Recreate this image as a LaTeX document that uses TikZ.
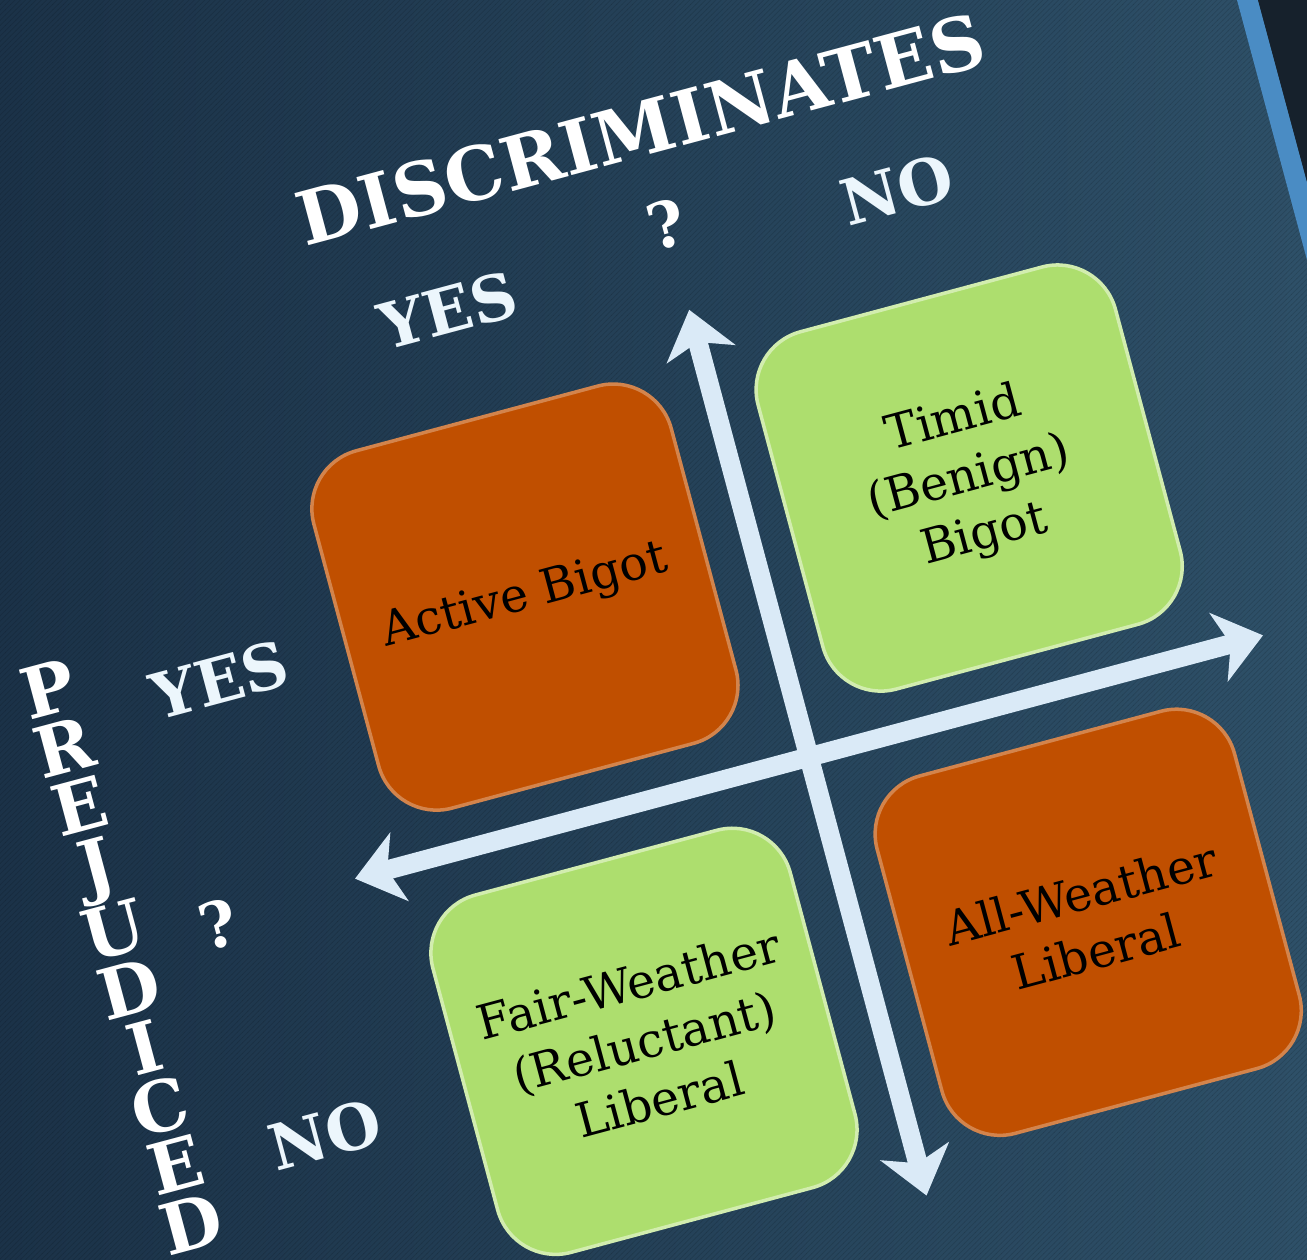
\documentclass[tikz,border=0pt]{standalone}
\usepackage{fontspec}
\setmainfont{DejaVu Serif}
\usetikzlibrary{arrows.meta,patterns}

\definecolor{navydark}{RGB}{27,50,72}
\definecolor{navylight}{RGB}{46,80,104}
\definecolor{rust}{RGB}{192,79,0}
\definecolor{lime}{RGB}{173,222,110}
\definecolor{axisblue}{RGB}{218,234,247}
\definecolor{edgeblue}{RGB}{74,140,196}
\definecolor{edgedark}{RGB}{22,33,44}
\definecolor{answerwhite}{RGB}{236,246,252}

\tikzset{
  quad/.style={rectangle,rounded corners=1.2cm,minimum size=7.4cm,transform shape,
    align=center,text=black,line width=2pt,font=\fontsize{27}{34}\selectfont},
  bigot/.style={quad,fill=rust,draw=rust!70!white},
  liberal/.style={quad,fill=lime,draw=lime!55!white},
  head/.style={transform shape,text=white,font=\bfseries\fontsize{42}{44}\selectfont},
  answer/.style={transform shape,text=answerwhite,font=\bfseries\fontsize{36}{38}\selectfont},
}

\begin{document}
\begin{tikzpicture}[x=0.02cm,y=0.02cm,>={Stealth[length=26pt,width=40pt,inset=7pt]},node distance=9.2cm]
\useasboundingbox (0,0) rectangle (1307,1259);
% background and slide edge
\shade[left color=navydark,right color=navylight] (0,0) rectangle (1307,1259);
\fill[pattern=north east lines,pattern color=black,opacity=0.12] (0,0) rectangle (1307,1259);
\fill[edgeblue] (1237,1259) -- (1258,1259) -- (1307,1077) -- (1307,999) -- cycle;
\fill[edgedark] (1258,1259) -- (1307,1259) -- (1307,1077) -- cycle;

\begin{scope}[shift={(809,502)},rotate=15]
\node[bigot]   (active)     at (-233,228)     {Active Bigot};
\node[liberal] (timid)      [right of=active] {Timid\\(Benign)\\Bigot};
\node[liberal] (fair)       [below of=active] {Fair-Weather\\(Reluctant)\\Liberal};
\node[bigot]   (allweather) [right of=fair]   {All-Weather\\Liberal};

% axes
\coordinate (west)  at (-470,0);
\coordinate (east)  at (470,0);
\coordinate (north) at (0,463);
\coordinate (south) at (0,-454);
\path[<->,axisblue,line width=11pt] (west) edge (east)
                                    (south) edge (north);

% headings and answers
\node[head] (discr) at (0,650) {DISCRIMINATES};
\node[head,align=center,font=\bfseries\fontsize{40}{34.6}\selectfont] (prej) at (-717,-14)
  {P\\R\\E\\J\\U\\D\\I\\C\\E\\D};
\node[head,font=\bfseries\fontsize{36}{38}\selectfont] (qtop)  at (0,551)    {?};
\node[head,font=\bfseries\fontsize{36}{38}\selectfont] (qleft) at (-614,-9)  {?};
\node[answer] (yestop)  at (-233,525) {YES};
\node[answer] (notop)   at (232,525)  {NO};
\node[answer] (yesleft) at (-549,227) {YES};
\node[answer] (noleft)  at (-565,-240) {NO};
\end{scope}
\end{tikzpicture}
\end{document}
